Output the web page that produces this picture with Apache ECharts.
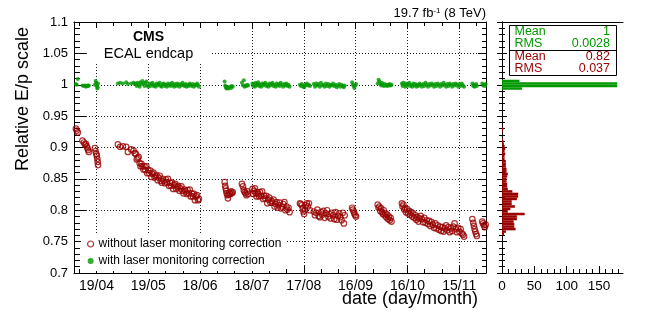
<!DOCTYPE html>
<html><head><meta charset="utf-8">
<script src="https://cdn.jsdelivr.net/npm/echarts@6/dist/echarts.min.js"></script>
<style>html,body{margin:0;padding:0;background:#fff}#c{width:664px;height:315px}</style>
</head><body><div id="c"></div>
<script>
// x values: days counted from 20 Jan 2012 (19/04 = 90)
const days = [
 78.1,78.6,79.2,81.9,82.7,83.3,83.9,84.4,84.8,85.2,85.6,89.1,89.5,89.9,90.2,90.5,90.7,90.9,
 102.4,103.7,105.3,107.2,108.2,110.1,111.5,112.2,
 112.8,113.3,113.9,114.4,115.0,115.5,116.1,116.6,117.2,117.8,
 118.3,118.9,119.4,120.0,120.6,121.2,121.8,122.4,123.0,123.6,
 124.2,124.8,125.4,126.0,126.6,127.2,127.8,128.4,129.0,129.6,
 130.2,130.8,131.4,132.0,132.6,133.2,133.8,134.4,135.0,135.6,
 136.2,136.8,137.4,138.0,138.6,139.2,139.8,140.4,141.0,141.6,
 142.2,142.8,143.4,144.0,144.6,145.2,145.8,146.4,147.0,147.6,
 148.2,148.8,149.3,
 164.2,164.5,164.8,165.1,165.4,165.8,166.1,166.5,166.9,167.4,167.9,168.4,168.9,
 174.2,174.8,175.3,175.8,176.3,176.8,177.3,177.8,
 180.3,180.7,181.2,181.7,182.2,182.7,183.2,183.7,184.2,184.7,
 185.3,185.9,186.5,187.1,187.7,188.3,188.9,189.5,190.1,190.7,
 191.3,191.9,192.5,193.1,193.7,194.3,194.9,195.5,196.1,196.7,
 197.4,198.1,198.8,199.4,200.0,200.6,201.2,201.8,
 207.8,208.3,208.9,209.4,209.8,210.2,210.6,211.2,211.8,212.4,213.0,213.6,
 215.8,216.5,217.2,217.9,218.6,219.3,220.0,220.7,221.4,222.1,
 222.8,223.5,224.2,224.9,225.6,226.3,227.0,227.7,228.4,229.1,
 229.8,230.5,231.2,231.9,232.6,233.2,233.7,
 238.0,238.4,238.9,239.3,239.8,240.3,
 252.8,253.3,253.8,254.3,254.8,255.3,255.8,256.3,256.8,257.3,257.8,258.3,258.8,259.3,259.8,260.3,260.8,
 266.8,267.2,267.7,268.2,268.7,269.2,269.8,270.4,271.0,271.6,
 272.2,272.8,273.4,274.0,274.6,275.2,275.8,276.4,277.0,277.7,
 278.4,279.1,279.8,280.5,281.2,281.9,282.6,283.3,284.0,284.7,
 285.4,286.1,286.8,287.5,288.2,288.9,289.6,290.3,291.0,291.7,
 292.4,293.1,293.8,294.5,295.2,295.9,296.6,297.3,298.0,298.7,
 299.4,300.1,300.8,301.5,302.2,302.8,
 307.6,308.1,308.5,308.9,309.3,309.8,310.2,
 313.3,313.8,314.3,314.8,315.3
];
// without laser monitoring correction
const rawScale = [
 .930,.927,.924,.911,.908,.905,.906,.902,.899,.896,.893,.899,.894,.890,.887,.882,.877,.872,
 .905,.901,.902,.901,.893,.897,.895,.891,
 .890,.881,.883,.885,.875,.870,.874,.870,.865,.870,
 .864,.870,.859,.864,.859,.863,.853,.858,.860,.852,
 .854,.856,.848,.852,.855,.847,.844,.850,.847,.843,
 .849,.844,.850,.839,.844,.839,.844,.834,.840,.842,
 .834,.837,.839,.831,.835,.838,.831,.827,.833,.830,
 .826,.832,.827,.833,.822,.827,.822,.826,.816,.822,
 .824,.816,.818,
 .845,.839,.835,.831,.827,.824,.819,.825,.828,.826,.830,.827,.829,
 .842,.838,.832,.829,.827,.824,.830,.826,
 .834,.826,.831,.835,.827,.822,.829,.826,.822,.829,
 .823,.830,.818,.823,.819,.823,.811,.817,.820,.812,
 .815,.812,.817,.806,.810,.813,.804,.808,.812,.803,
 .806,.810,.813,.800,.806,.801,.804,.797,
 .811,.810,.808,.803,.798,.794,.800,.808,.811,.806,.811,.800,
 .798,.792,.796,.801,.791,.789,.797,.793,.799,.788,
 .795,.800,.790,.794,.787,.796,.792,.786,.797,.785,
 .791,.795,.789,.784,.796,.779,.792,
 .804,.801,.798,.795,.792,.790,
 .809,.804,.806,.799,.803,.797,.794,.800,.792,.795,.789,.793,.786,.790,.784,.788,.782,
 .811,.806,.809,.801,.803,.797,.802,.795,.799,.793,
 .797,.790,.795,.788,.792,.785,.789,.782,.787,.791,
 .786,.781,.788,.780,.784,.778,.783,.775,.781,.777,
 .772,.779,.771,.776,.769,.774,.767,.773,.766,.771,
 .776,.768,.773,.765,.771,.767,.774,.779,.770,.765,
 .772,.766,.770,.763,.761,.758,
 .786,.780,.775,.770,.766,.762,.759,
 .782,.779,.776,.773,.777
];
// with laser monitoring correction
const corrScale = [
 1.001,1.000,1.009,.999,.998,.999,.997,.998,.999,.998,.999,1.000,1.006,1.003,.998,.994,.996,1.002,
 1.002,1.003,1.002,1.004,1.001,1.002,1.003,1.001,
 1.002,.998,1.003,1.000,.997,1.004,1.001,1.006,1.002,.998,
 1.003,1.005,.999,.997,1.002,.998,1.001,1.003,.998,1.000,
 .997,1.002,.999,1.001,1.003,.998,.997,1.001,1.002,.998,
 1.000,.997,1.002,.999,1.001,.998,1.003,1.000,.997,1.001,
 .998,1.002,1.000,.997,1.001,.999,1.003,1.000,.998,1.001,
 .997,1.000,.998,1.002,1.000,.998,1.001,.997,1.000,.999,
 1.002,1.000,.997,
 1.005,.999,.997,.995,.994,.996,.995,.994,.996,.997,.995,.998,.997,
 1.003,.999,1.007,.997,.999,.998,1.000,.999,
 1.002,.998,1.001,.997,1.003,.999,1.001,1.004,.998,1.000,
 .997,1.002,.999,1.001,1.003,.998,1.000,.997,1.002,.999,
 1.001,1.003,.998,1.000,.997,1.002,.999,1.001,.998,1.003,
 1.000,.997,1.001,.999,1.002,.998,1.000,.997,
 1.000,.998,1.001,.999,.997,.996,.999,1.000,1.002,.999,1.000,.998,
 1.001,.997,1.002,.999,1.001,.997,1.003,.999,1.000,.997,
 1.002,.998,1.001,.997,1.000,.999,1.002,.998,1.000,.996,
 .999,1.001,.997,1.000,.998,.996,.999,
 1.004,1.000,.998,.995,.999,1.001,
 1.002,1.008,1.005,1.001,.999,1.003,1.000,.998,1.001,.999,1.000,.998,1.000,.999,1.001,.999,1.000,
 1.002,.998,1.003,1.000,.997,1.002,.998,1.001,1.003,.998,
 1.000,.997,1.002,.999,1.001,.997,1.000,.998,1.002,1.000,
 .997,1.001,.998,1.003,1.000,.997,1.001,.999,1.002,1.000,
 .997,1.001,.998,1.002,1.000,.997,1.001,.999,1.003,1.000,
 .997,1.001,.998,1.002,1.000,.997,1.001,.999,1.002,1.000,
 .997,1.001,.998,1.002,.999,.997,
 1.002,.998,1.000,.997,.999,1.001,.998,
 1.002,.999,1.000,.998,1.001
];
const tickDays = [90,120,150,180,210,240,270,300];
const tickLabels = ['19/04','19/05','18/06','18/07','17/08','16/09','16/10','15/11'];
const minorTickDays = [80,100,110,130,140,160,170,190,200,220,230,250,260,280,290,310];
const histTicks = [0,50,100,150];
const histMinorTicks = [10,20,30,40,60,70,80,90,110,120,130,140,160,170,180];
// histogram bins (lower edges, width 0.004) and entries
const redHistLow = [0.760,0.764,0.768,0.772,0.776,0.780,0.784,0.788,0.792,0.796,
 0.800,0.804,0.808,0.812,0.816,0.820,0.824,0.828,0.832,0.836,
 0.840,0.844,0.848,0.852,0.856,0.860,0.864,0.868,0.872,0.876,
 0.880,0.884,0.888,0.892,0.896,0.900,0.904,0.908,0.912,0.916,
 0.920,0.924,0.928];
const redHistCount = [3,6,21,19,19,18,23,23,35,9,
 13,20,15,15,23,25,25,16,9,8,
 8,7,7,8,9,7,7,6,6,6,
 4,4,5,4,5,4,3,2,1,0,
 0,1,2];
const greenHistLow = [0.992,0.996,1.000,1.004];
const greenHistCount = [31,178,178,27];

const FONT = 'Liberation Sans';
const RED = '#990000', GREEN = '#009900';
const binW = 0.004, histLo = 0.7, nBins = 100;
const binCats = [];
for (let i = 0; i < nBins; i++) binCats.push((histLo + (i + 0.5) * binW).toFixed(3));
function fillBins(lows, counts) {
  const arr = new Array(nBins).fill(0);
  lows.forEach((l, i) => { arr[Math.round((l - histLo) / binW)] = counts[i]; });
  return arr;
}
const redBins = fillBins(redHistLow, redHistCount);
const greenBins = fillBins(greenHistLow, greenHistCount);

const dotted = {show: true, lineStyle: {color: '#222', width: 1, type: [1, 2]}};
const blackLine = {show: true, lineStyle: {color: '#000', width: 1}};
const noLabel = {show: false};

const chart = echarts.init(document.getElementById('c'), null, {renderer: 'canvas'});
chart.setOption({
  animation: false,
  textStyle: {fontFamily: FONT, color: '#000'},
  grid: [
    {left: 74, top: 22, width: 412, height: 251},
    {left: 502, top: 22, width: 121, height: 251}
  ],
  xAxis: [
    {gridIndex: 0, type: 'value', position: 'bottom', min: 77, max: 315.5,
     axisLine: blackLine,
     axisTick: {inside: true, length: 7, customValues: tickDays, lineStyle: {color: '#000'}},
     axisLabel: {customValues: tickDays, formatter: v => tickLabels[tickDays.indexOf(v)],
                 fontSize: 14, color: '#000', margin: 6, fontFamily: FONT},
     splitLine: dotted},
    {gridIndex: 0, type: 'value', position: 'bottom', min: 77, max: 315.5,
     axisLine: {show: false},
     axisTick: {inside: true, length: 4, customValues: minorTickDays, lineStyle: {color: '#000'}},
     axisLabel: noLabel, splitLine: {show: false}},
    {gridIndex: 0, type: 'value', position: 'top', min: 77, max: 315.5,
     axisLine: blackLine,
     axisTick: {inside: true, length: 7, customValues: tickDays, lineStyle: {color: '#000'}},
     axisLabel: noLabel, splitLine: {show: false}},
    {gridIndex: 0, type: 'value', position: 'top', min: 77, max: 315.5,
     axisLine: {show: false},
     axisTick: {inside: true, length: 4, customValues: minorTickDays, lineStyle: {color: '#000'}},
     axisLabel: noLabel, splitLine: {show: false}},
    {gridIndex: 1, type: 'value', position: 'bottom', min: 0, max: 187,
     axisLine: blackLine,
     axisTick: {inside: true, length: 7, customValues: histTicks, lineStyle: {color: '#000'}},
     axisLabel: {customValues: histTicks, fontSize: 13.5, color: '#000', margin: 6, fontFamily: FONT},
     splitLine: {show: false}},
    {gridIndex: 1, type: 'value', position: 'bottom', min: 0, max: 187,
     axisLine: {show: false},
     axisTick: {inside: true, length: 4, customValues: histMinorTicks, lineStyle: {color: '#000'}},
     axisLabel: noLabel, splitLine: {show: false}},
    {gridIndex: 1, type: 'value', position: 'top', min: 0, max: 187,
     axisLine: blackLine, axisTick: {show: false}, axisLabel: noLabel, splitLine: {show: false}}
  ],
  yAxis: [
    {gridIndex: 0, type: 'value', position: 'left', min: 0.7, max: 1.1, interval: 0.05,
     axisLine: blackLine,
     axisTick: {inside: true, length: 12, lineStyle: {color: '#000'}},
     minorTick: {show: true, splitNumber: 5, length: 6, lineStyle: {color: '#000'}},
     axisLabel: {fontSize: 13, color: '#000', margin: 6, fontFamily: FONT,
                 formatter: v => String(parseFloat(v.toFixed(3)))},
     splitLine: dotted},
    {gridIndex: 0, type: 'value', position: 'right', min: 0.7, max: 1.1, interval: 0.05,
     axisLine: blackLine,
     axisTick: {inside: true, length: 8, lineStyle: {color: '#000'}},
     minorTick: {show: true, splitNumber: 5, length: 4, lineStyle: {color: '#000'}},
     axisLabel: noLabel, splitLine: {show: false}},
    {gridIndex: 1, type: 'value', position: 'left', min: 0.7, max: 1.1, interval: 0.05,
     axisLine: blackLine,
     axisTick: {inside: true, length: 5, lineStyle: {color: '#000'}},
     minorTick: {show: true, splitNumber: 5, length: 3, lineStyle: {color: '#000'}},
     axisLabel: noLabel, splitLine: {show: false}},
    {gridIndex: 1, type: 'value', position: 'right', min: 0.7, max: 1.1, interval: 0.05,
     axisLine: blackLine,
     axisTick: {inside: true, length: 5, lineStyle: {color: '#000'}},
     minorTick: {show: true, splitNumber: 5, length: 3, lineStyle: {color: '#000'}},
     axisLabel: noLabel, splitLine: {show: false}},
    {gridIndex: 1, type: 'category', data: binCats, boundaryGap: true, show: false}
  ],
  legend: {
    orient: 'vertical', left: 81, top: 235, selectedMode: false,
    itemWidth: 6, itemHeight: 6, itemGap: 5,
    backgroundColor: '#fff', padding: [3, 4, 4, 6],
    textStyle: {fontSize: 12, color: '#000', fontFamily: FONT},
    data: [
      {name: 'without laser monitoring correction', icon: 'circle',
       itemStyle: {color: 'rgba(0,0,0,0)', borderColor: RED, borderWidth: 1.2}},
      {name: 'with laser monitoring correction', icon: 'circle',
       itemStyle: {color: GREEN, borderWidth: 0}}
    ]
  },
  series: [
    {name: 'without laser monitoring correction', type: 'scatter', xAxisIndex: 0, yAxisIndex: 0,
     symbol: 'circle', symbolSize: 5.5,
     itemStyle: {color: 'rgba(0,0,0,0)', borderColor: RED, borderWidth: 1.2},
     data: days.map((d, i) => [d, rawScale[i]])},
    {name: 'with laser monitoring correction', type: 'scatter', xAxisIndex: 0, yAxisIndex: 0,
     symbol: 'circle', symbolSize: 4,
     itemStyle: {color: GREEN},
     data: days.map((d, i) => [d, corrScale[i]])},
    {name: 'hist raw', type: 'bar', xAxisIndex: 4, yAxisIndex: 4,
     barCategoryGap: '0%', barGap: '-100%', itemStyle: {color: RED}, data: redBins},
    {name: 'hist corr', type: 'bar', xAxisIndex: 4, yAxisIndex: 4,
     barCategoryGap: '0%', barGap: '-100%', itemStyle: {color: GREEN}, data: greenBins}
  ],
  graphic: [
    {type: 'rect', z: 1, shape: {x: 89, y: 28, width: 121, height: 35}, style: {fill: '#fff'}},
    {type: 'text', z: 3, x: 148.5, y: 37,
     style: {text: 'CMS', font: 'bold 14px "Liberation Sans"', fill: '#000',
             textAlign: 'center', textVerticalAlign: 'middle', align: 'center', verticalAlign: 'middle'}},
    {type: 'text', z: 3, x: 148.5, y: 54,
     style: {text: 'ECAL endcap', font: '14.5px "Liberation Sans"', fill: '#000',
             textAlign: 'center', textVerticalAlign: 'middle', align: 'center', verticalAlign: 'middle'}},
    {type: 'text', z: 3, x: 486, y: 13,
     style: {text: '{a|19.7 fb}{s|-1}{a| (8 TeV)}', fill: '#000',
             rich: {a: {fontSize: 13, fontFamily: FONT, color: '#000'},
                    s: {fontSize: 8, fontFamily: FONT, color: '#000', verticalAlign: 'top'}},
             textAlign: 'right', textVerticalAlign: 'middle', align: 'right', verticalAlign: 'middle'}},
    {type: 'text', z: 3, x: 23, y: 27, rotation: Math.PI / 2,
     style: {text: 'Relative E/p scale', font: '18px "Liberation Sans"', fill: '#000',
             textAlign: 'right', textVerticalAlign: 'middle', align: 'right', verticalAlign: 'middle'}},
    {type: 'text', z: 3, x: 478, y: 299,
     style: {text: 'date (day/month)', font: '18px "Liberation Sans"', fill: '#000',
             textAlign: 'right', textVerticalAlign: 'middle', align: 'right', verticalAlign: 'middle'}},
    {type: 'rect', z: 5, shape: {x: 509.5, y: 25.5, width: 107, height: 50},
     style: {fill: '#fff', stroke: '#000', lineWidth: 1}},
    {type: 'line', z: 6, shape: {x1: 509.5, y1: 50.5, x2: 616.5, y2: 50.5}, style: {stroke: '#000', lineWidth: 1}},
    {type: 'text', z: 6, x: 514.5, y: 31.5, style: {text: 'Mean', font: '12.5px "Liberation Sans"', fill: GREEN, textVerticalAlign: 'middle', verticalAlign: 'middle'}},
    {type: 'text', z: 6, x: 610, y: 31.5, style: {text: '1', font: '12.5px "Liberation Sans"', fill: GREEN, textAlign: 'right', align: 'right', textVerticalAlign: 'middle', verticalAlign: 'middle'}},
    {type: 'text', z: 6, x: 514.5, y: 43.5, style: {text: 'RMS', font: '12.5px "Liberation Sans"', fill: GREEN, textVerticalAlign: 'middle', verticalAlign: 'middle'}},
    {type: 'text', z: 6, x: 610, y: 43.5, style: {text: '0.0028', font: '12.5px "Liberation Sans"', fill: GREEN, textAlign: 'right', align: 'right', textVerticalAlign: 'middle', verticalAlign: 'middle'}},
    {type: 'text', z: 6, x: 514.5, y: 56.5, style: {text: 'Mean', font: '12.5px "Liberation Sans"', fill: RED, textVerticalAlign: 'middle', verticalAlign: 'middle'}},
    {type: 'text', z: 6, x: 610, y: 56.5, style: {text: '0.82', font: '12.5px "Liberation Sans"', fill: RED, textAlign: 'right', align: 'right', textVerticalAlign: 'middle', verticalAlign: 'middle'}},
    {type: 'text', z: 6, x: 514.5, y: 68.5, style: {text: 'RMS', font: '12.5px "Liberation Sans"', fill: RED, textVerticalAlign: 'middle', verticalAlign: 'middle'}},
    {type: 'text', z: 6, x: 610, y: 68.5, style: {text: '0.037', font: '12.5px "Liberation Sans"', fill: RED, textAlign: 'right', align: 'right', textVerticalAlign: 'middle', verticalAlign: 'middle'}}
  ]
});
</script>
</body></html>
